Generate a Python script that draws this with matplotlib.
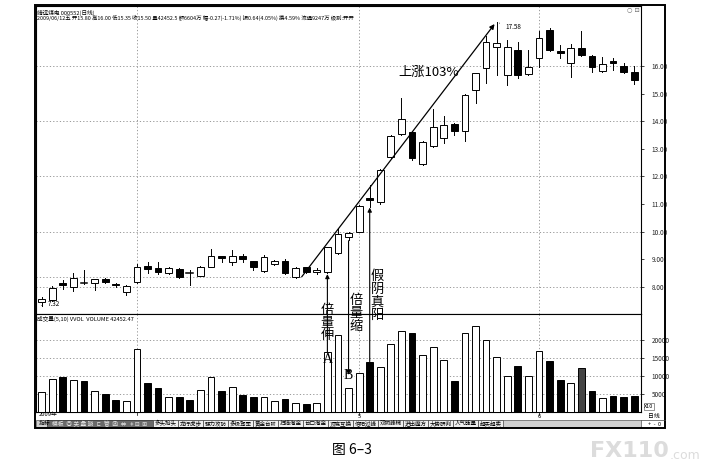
import matplotlib
matplotlib.use('Agg')
import matplotlib.pyplot as plt
from matplotlib.patches import Rectangle, ConnectionPatch
import matplotlib.transforms as mtransforms

plt.rcParams['font.family'] = ['Noto Sans CJK SC', 'DejaVu Sans']

# ---------------- data ----------------
opens = [7.45, 7.52, 8.12, 8.00, 8.15, 8.14, 8.28, 8.09, 7.80, 8.17,
         8.75, 8.68, 8.50, 8.65, 8.52, 8.40, 8.72, 9.12, 8.90, 9.12,
         8.93, 8.57, 8.83, 8.93, 8.35, 8.72, 8.52, 8.53, 9.22, 9.80,
         10.00, 11.20, 11.07, 12.70, 13.54, 13.60, 12.45, 13.10, 13.40, 13.90,
         13.64, 15.13, 15.92, 16.70, 15.67, 16.58, 15.70, 16.28, 17.30, 16.54,
         16.10, 16.64, 16.37, 15.81, 16.19, 16.01, 15.80]
highs = [7.62, 8.03, 8.25, 8.50, 8.60, 8.30, 8.33, 8.15, 8.07, 8.83,
         8.90, 8.90, 8.72, 8.67, 8.60, 8.75, 9.37, 9.13, 9.33, 9.20,
         8.95, 9.15, 8.96, 9.02, 8.70, 8.73, 8.68, 9.45, 10.10, 10.00,
         10.95, 11.70, 12.25, 13.50, 14.84, 13.65, 13.30, 14.44, 14.20, 13.95,
         15.00, 15.76, 17.10, 17.58, 16.94, 16.88, 16.58, 17.27, 17.39, 16.76,
         16.79, 17.27, 16.40, 16.34, 16.28, 16.10, 16.00]
lows = [7.32, 7.50, 7.92, 7.85, 8.10, 7.88, 8.13, 7.98, 7.72, 8.12,
        8.50, 8.45, 8.48, 8.33, 8.07, 8.38, 8.70, 8.91, 8.80, 8.90,
        8.60, 8.55, 8.80, 8.48, 8.33, 8.50, 8.45, 8.50, 9.20, 9.70,
        9.98, 10.90, 11.00, 12.65, 13.50, 12.60, 12.40, 13.05, 13.20, 13.50,
        13.30, 14.65, 15.38, 15.67, 15.31, 15.56, 15.68, 15.97, 16.56, 16.30,
        15.61, 16.38, 15.79, 15.80, 15.86, 15.75, 15.35]
closes = [7.56, 7.95, 8.08, 8.32, 8.13, 8.28, 8.17, 8.05, 8.02, 8.73,
          8.65, 8.53, 8.68, 8.35, 8.50, 8.72, 9.12, 9.04, 9.12, 9.00,
          8.72, 9.08, 8.93, 8.50, 8.68, 8.53, 8.60, 9.44, 9.90, 9.95,
          10.93, 11.15, 12.23, 13.46, 14.08, 12.67, 13.25, 13.80, 13.86, 13.64,
          14.95, 15.73, 16.88, 16.82, 16.70, 15.67, 15.97, 17.00, 16.58, 16.46,
          16.64, 16.40, 15.97, 16.06, 16.10, 15.77, 15.50]
volumes = [5600, 9200, 9700, 9000, 8600, 5900, 4900, 3300, 3000, 17500,
           8000, 6600, 4300, 4300, 3300, 6100, 9700, 5800, 6900, 4700,
           4100, 4100, 3100, 3600, 2400, 2200, 2400, 16700, 21400, 6700,
           10900, 14000, 12600, 18800, 22600, 22000, 15800, 18000, 14400, 8600,
           21900, 23900, 20000, 15300, 10000, 12800, 10000, 17000, 14200, 8900,
           8000, 12200, 5800, 3900, 4400, 4200, 4400]
price_ticks = [8, 9, 10, 11, 12, 13, 14, 15, 16]
price_grid = [8, 10, 12, 14, 16]
vol_ticks = [5000, 10000, 15000, 20000]
month_starts = [9, 30, 47]
month_labels = ['', '5', '6']
tabs = ['多头抬头', '龙行虎步', '强力攻防', '多极驾军', '黄金台阶', '扫描淘金', '台口淘金',
        '顶底互换', '倍阳过峰', '双阴峰梯', '进出魔方', '大势研判', '人气能量', '超买超卖']
header1 = '靖远煤电 000552(日线)'
header2 = ('2009/06/12五 开15.80 高16.00 低15.35 收15.50 量42452.5 额6604万 '
           '幅-0.27(-1.71%) 振0.64(4.05%) 换4.59% 流通9247万 级别:开开')

# ---------------- layout ----------------
W, H = 715, 473
fig = plt.figure(figsize=(W / 100, H / 100), dpi=100)
fig.patch.set_facecolor('white')
def fx(x): return x / W
def fy(y): return 1 - y / H

L, R = 36, 641
PT, PB, VB = 6, 314, 412
axp = fig.add_axes([fx(L), fy(PB), fx(R) - fx(L), fy(PT) - fy(PB)])
axv = fig.add_axes([fx(L), fy(VB), fx(R) - fx(L), fy(PB) - fy(VB)])
n = len(closes)
xs = list(range(n))
for ax in (axp, axv):
    ax.set_xlim(-0.54, 56.64)
    ax.set_xticks([])
    for s in ax.spines.values():
        s.set_linewidth(0.8)
axp.set_ylim(7.014, 18.174)
axv.set_ylim(0, 27222)

bw = 0.64
grid_kw = dict(color='#8a8a8a', lw=0.6, ls=(0, (1.5, 2.5)), zorder=0)
for g in price_grid:
    axp.axhline(g, **grid_kw)
for g in vol_ticks:
    axv.axhline(g, **grid_kw)
for m in month_starts:
    axp.axvline(m, **grid_kw)
    axv.axvline(m, **grid_kw)
# cost reference line on the left
axp.plot([-0.54, 24.57], [8.36, 8.36], **grid_kw)

# candles
for i in xs:
    o, h, l, c = opens[i], highs[i], lows[i], closes[i]
    up = c > o
    top, bot = max(o, c), min(o, c)
    axp.plot([i, i], [l, h], color='black', lw=0.7, zorder=2)
    if top - bot < 0.035:
        axp.plot([i - bw / 2, i + bw / 2], [c, c], color='black', lw=1.1, zorder=3)
    else:
        axp.add_patch(Rectangle((i - bw / 2, bot), bw, top - bot,
                                facecolor='white' if up else 'black',
                                edgecolor='black', lw=0.7, zorder=3))
    vc = 'white' if up else ('#444444' if i == 51 else 'black')
    axv.add_patch(Rectangle((i - bw / 2, 0), bw, volumes[i], facecolor=vc,
                            edgecolor='black', lw=0.7, zorder=3))

# right axes ticks
for ax, ticks, fmt in ((axp, price_ticks, '{:.2f}'), (axv, vol_ticks, '{:d}')):
    ax.yaxis.tick_right()
    ax.set_yticks(ticks)
    ax.set_yticklabels([fmt.format(t) for t in ticks])
    ax.tick_params(axis='y', direction='out', length=2.5, width=0.6, pad=5,
                   labelsize=4.6, colors='#222222')

# header texts
axp.text(0.002, 0.988, header1, transform=axp.transAxes, fontsize=4.1, va='top', ha='left')
axp.text(0.002, 0.972, header2, transform=axp.transAxes, fontsize=3.9, va='top', ha='left')
fig.text(fx(633), fy(10), '○ ⊡', fontsize=4.5, color='#666666', ha='center', va='center',
         family=['DejaVu Sans'])
axv.text(0.002, 0.985, '成交量(5,10) VVOL  VOLUME 42452.47', transform=axv.transAxes,
         fontsize=4.1, va='top', ha='left')

# low / high labels
axp.annotate('7.32', xy=(0, lows[0]), xytext=(0.55, lows[0] + 0.05), fontsize=4.6,
             va='center', ha='left', arrowprops=dict(arrowstyle='-', lw=0.5))
axp.annotate('17.58', xy=(43, highs[43]), xytext=(43.8, highs[43] - 0.15), fontsize=4.6,
             va='center', ha='left', arrowprops=dict(arrowstyle='-', lw=0.5))

# trend line with arrow
axp.annotate('', xy=(42.8, 17.52), xytext=(24.57, 8.36),
             arrowprops=dict(arrowstyle='-|>', lw=0.9, color='black', mutation_scale=7,
                             shrinkA=0, shrinkB=0))
axp.text(33.7, 15.78, '上涨103%', fontsize=9.5, ha='left', va='center')

# vertical arrows between volume bars and candles
def varrow(i, ya, axa, yb, axb):
    con = ConnectionPatch(xyA=(i, ya), coordsA=axa.transData, xyB=(i, yb), coordsB=axb.transData,
                          arrowstyle='-|>', lw=0.8, color='black', mutation_scale=6,
                          shrinkA=0, shrinkB=0, zorder=5)
    fig.add_artist(con)

varrow(27, volumes[27], axv, lows[27] - 0.04, axp)
varrow(29, lows[29] - 0.03, axp, 10300, axv)
varrow(31, volumes[31], axv, lows[31] - 0.03, axp)

bt = mtransforms.blended_transform_factory(axp.transData, fig.transFigure)
fig.text(27, fy(323), '倍\n量\n伸', transform=bt, fontsize=9.5, ha='center', va='center',
         linespacing=1.0, zorder=6)
fig.text(29.75, fy(313), '倍\n量\n缩', transform=bt, fontsize=9.5, ha='center', va='center',
         linespacing=1.0, zorder=6)
fig.text(31.7, fy(296), '假\n阴\n真\n阳', transform=bt, fontsize=9.5, ha='center', va='center',
         linespacing=1.0, zorder=6)
axv.text(27, volumes[27] - 300, 'A', fontsize=10, ha='center', va='top',
         family=['Liberation Serif'], zorder=6)
axv.text(29, 8200, 'B', fontsize=10, ha='center', va='bottom', family=['Liberation Serif'],
         zorder=6, bbox=dict(facecolor='white', edgecolor='none', pad=0.3))

# date row
fig.text(fx(39), fy(414), '2009年', fontsize=4.2, ha='left', va='center')
dt = mtransforms.blended_transform_factory(axv.transData, fig.transFigure)
for m, lab in zip(month_starts, month_labels):
    fig.add_artist(plt.Line2D([m, m], [fy(412), fy(414.5)], transform=dt, color='black', lw=0.5))
    if lab:
        fig.text(m, fy(416.5), lab, transform=dt, fontsize=4.2, ha='center', va='center')

# tab bar
fig.add_artist(Rectangle((fx(L), fy(427)), fx(R) - fx(L), fy(420) - fy(427),
                         facecolor='#d0d0d0', edgecolor='#555555', lw=0.5))
fig.text(fx(39), fy(423.5), '指标', fontsize=4.2, ha='left', va='center')
fig.add_artist(Rectangle((fx(47), fy(427)), fx(153) - fx(47), fy(420) - fy(427),
                         facecolor='#6a6a6a', edgecolor='#333333', lw=0.5))
fig.text(fx(52), fy(423.5), '模板  ◎ 关 蠡 晓  ㄷ  管  函  ⇔  ‡⊟  ⊞', fontsize=4.2,
         ha='left', va='center', color='#e8e8e8')
for k, t in enumerate(tabs):
    x0 = 153 + 25 * k
    fig.add_artist(Rectangle((fx(x0), fy(427)), fx(25), fy(420) - fy(427),
                             facecolor='#efefef', edgecolor='#444444', lw=0.5))
    fig.text(fx(x0 + 12.5), fy(423.5), t, fontsize=4.0, ha='center', va='center')

# right column extras
fig.text(fx(649), fy(406.5), 'X10', fontsize=4.0, ha='center', va='center',
         bbox=dict(facecolor='white', edgecolor='#444444', lw=0.4, pad=0.6))
fig.text(fx(654), fy(416.5), '日线', fontsize=4.2, ha='center', va='center')
fig.text(fx(654), fy(424), '+  -  0', fontsize=4.0, ha='center', va='center')
fig.add_artist(plt.Line2D([fx(R), fx(665)], [fy(420), fy(420)], color='#444444', lw=0.5))

# outer frame
fig.add_artist(Rectangle((fx(35), fy(428)), fx(665) - fx(35), fy(5) - fy(428),
                         facecolor='none', edgecolor='black', lw=1.4))

# caption and watermark
fig.text(fx(352), fy(450), '图 6–3', fontsize=10, ha='center', va='center')
fig.text(fx(590), fy(451), 'FX110', fontsize=16, fontweight='bold', color='#dcdcdc',
         ha='left', va='center', family=['DejaVu Sans'])
fig.text(fx(670), fy(455), '.com', fontsize=9, color='#dcdcdc', ha='left', va='center',
         family=['DejaVu Sans'])

fig.savefig('out.png', dpi=100)
